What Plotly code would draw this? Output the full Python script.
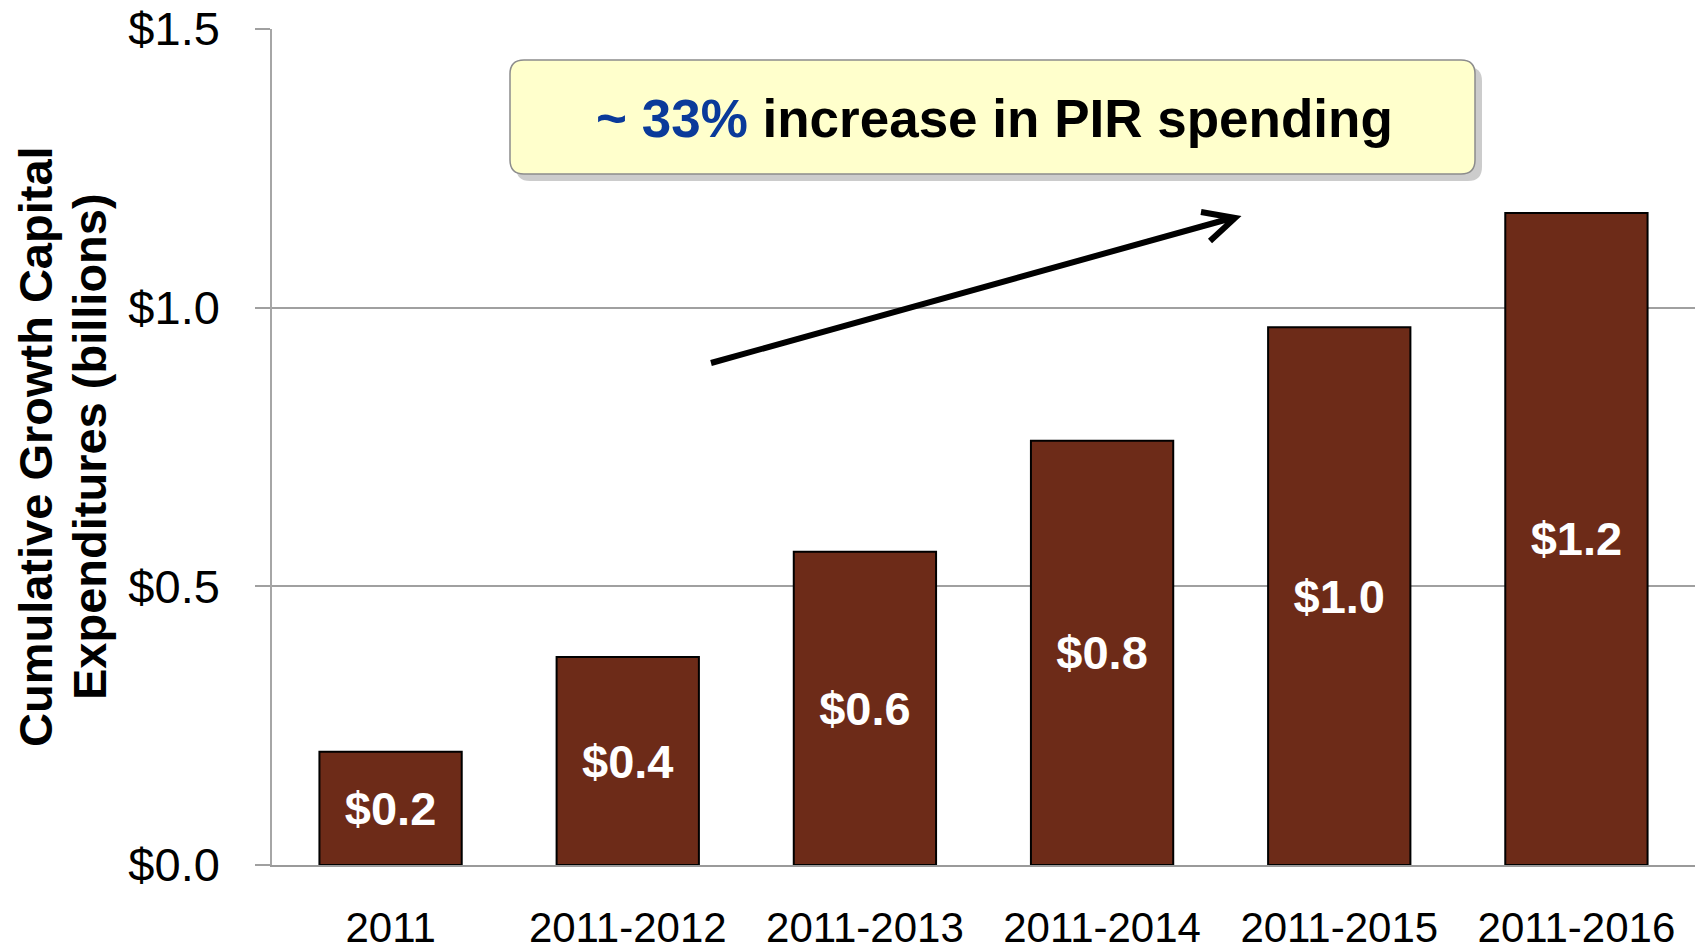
import plotly.graph_objects as go

categories = ["2011", "2011-2012", "2011-2013", "2011-2014", "2011-2015", "2011-2016"]
values = [0.203, 0.373, 0.562, 0.761, 0.965, 1.170]
bar_labels = ["$0.2", "$0.4", "$0.6", "$0.8", "$1.0", "$1.2"]
y_tick_vals = [0.0, 0.5, 1.0, 1.5]
y_tick_text = ["$0.0", "$0.5", "$1.0", "$1.5"]
y_title_lines = ["Cumulative Growth Capital", "Expenditures (billions)"]
callout_text = "<b><span style='color:#0A3A9A'>~ 33%</span> increase in PIR spending</b>"

FONT = "Arial, Liberation Sans, sans-serif"
# page has an 8px body margin, so the figure is sized to fit the window
OFF = 8
W, H = 1703 - 2 * OFF, 946 - OFF
PLOT_L, PLOT_T, PLOT_B = 272, 29, 865          # page pixel positions of the plot area
ML, MT = PLOT_L - OFF, PLOT_T - OFF
MB = H - (PLOT_B - OFF)
MR = 0
PW, PH = W - ML - MR, H - MT - MB

def px(x):
    return (x - PLOT_L) / PW

def py(y):
    return (PLOT_B - y) / PH

fig = go.Figure()
fig.add_trace(go.Bar(
    x=categories, y=values, text=bar_labels,
    texttemplate="<b>%{text}</b>", textposition="inside",
    insidetextanchor="middle", textangle=0, constraintext="none",
    textfont=dict(family=FONT, size=47, color="white"),
    marker=dict(color="#6D2B18", line=dict(color="black", width=2)),
    width=0.6, hoverinfo="skip",
))

def rounded_path(x0, y0, x1, y1, r):
    rx, ry = r / PW, r / PH
    X0, X1 = px(x0), px(x1)
    Yt, Yb = py(y0), py(y1)
    return (f"M {X0+rx},{Yt} L {X1-rx},{Yt} Q {X1},{Yt} {X1},{Yt-ry} "
            f"L {X1},{Yb+ry} Q {X1},{Yb} {X1-rx},{Yb} L {X0+rx},{Yb} "
            f"Q {X0},{Yb} {X0},{Yb+ry} L {X0},{Yt-ry} Q {X0},{Yt} {X0+rx},{Yt} Z")

shapes = [
    dict(type="path", xref="paper", yref="paper", path=rounded_path(516, 67, 1482, 181, 14),
         fillcolor="rgba(0,0,0,0.2)", line=dict(width=0), layer="above"),
    dict(type="path", xref="paper", yref="paper", path=rounded_path(510, 60, 1475, 174, 14),
         fillcolor="#FFFFCC", line=dict(color="#8C8C8C", width=1.5), layer="above"),
    dict(type="path", xref="paper", yref="paper",
         path=(f"M {px(711)},{py(363)} L {px(1232)},{py(218)} "
               f"M {px(1201)},{py(212)} L {px(1235)},{py(218)} L {px(1210)},{py(241)}"),
         line=dict(color="black", width=6), layer="above"),
]

annotations = [
    dict(text=callout_text, xref="paper", yref="paper", x=px(994), y=py(118),
         xanchor="center", yanchor="middle", showarrow=False,
         font=dict(family=FONT, size=53, color="black")),
    dict(text=f"<b>{y_title_lines[0]}</b>", xref="paper", yref="paper", x=px(35), y=0.5,
         xanchor="center", yanchor="middle", textangle=-90, showarrow=False,
         font=dict(family=FONT, size=47, color="black")),
    dict(text=f"<b>{y_title_lines[1]}</b>", xref="paper", yref="paper", x=px(89), y=0.5,
         xanchor="center", yanchor="middle", textangle=-90, showarrow=False,
         font=dict(family=FONT, size=47, color="black")),
]

fig.update_layout(
    width=W, height=H, autosize=False,
    margin=dict(l=ML, r=MR, t=MT, b=MB, pad=0, autoexpand=False),
    paper_bgcolor="white", plot_bgcolor="white",
    showlegend=False, shapes=shapes, annotations=annotations,
    font=dict(family=FONT, color="black"),
)
fig.update_xaxes(
    automargin=False,
    showgrid=False, showline=True, linecolor="#9A9A9A", linewidth=2,
    ticks="", tickfont=dict(family=FONT, size=42, color="black"),
    ticklabelstandoff=25, range=[-0.5, 5.5], ticklabeloverflow="allow",
)
fig.update_yaxes(
    automargin=False,
    range=[0, 1.5], tickvals=y_tick_vals, ticktext=y_tick_text,
    showgrid=True, gridcolor="#A0A0A0", gridwidth=1.5,
    showline=True, linecolor="#A6A6A6", linewidth=1.5,
    ticks="outside", ticklen=15, tickcolor="#A0A0A0", tickwidth=1.5,
    tickfont=dict(family=FONT, size=47, color="black"),
    ticklabelstandoff=26, zeroline=False, ticklabeloverflow="allow",
)

fig.write_html("out.html")
